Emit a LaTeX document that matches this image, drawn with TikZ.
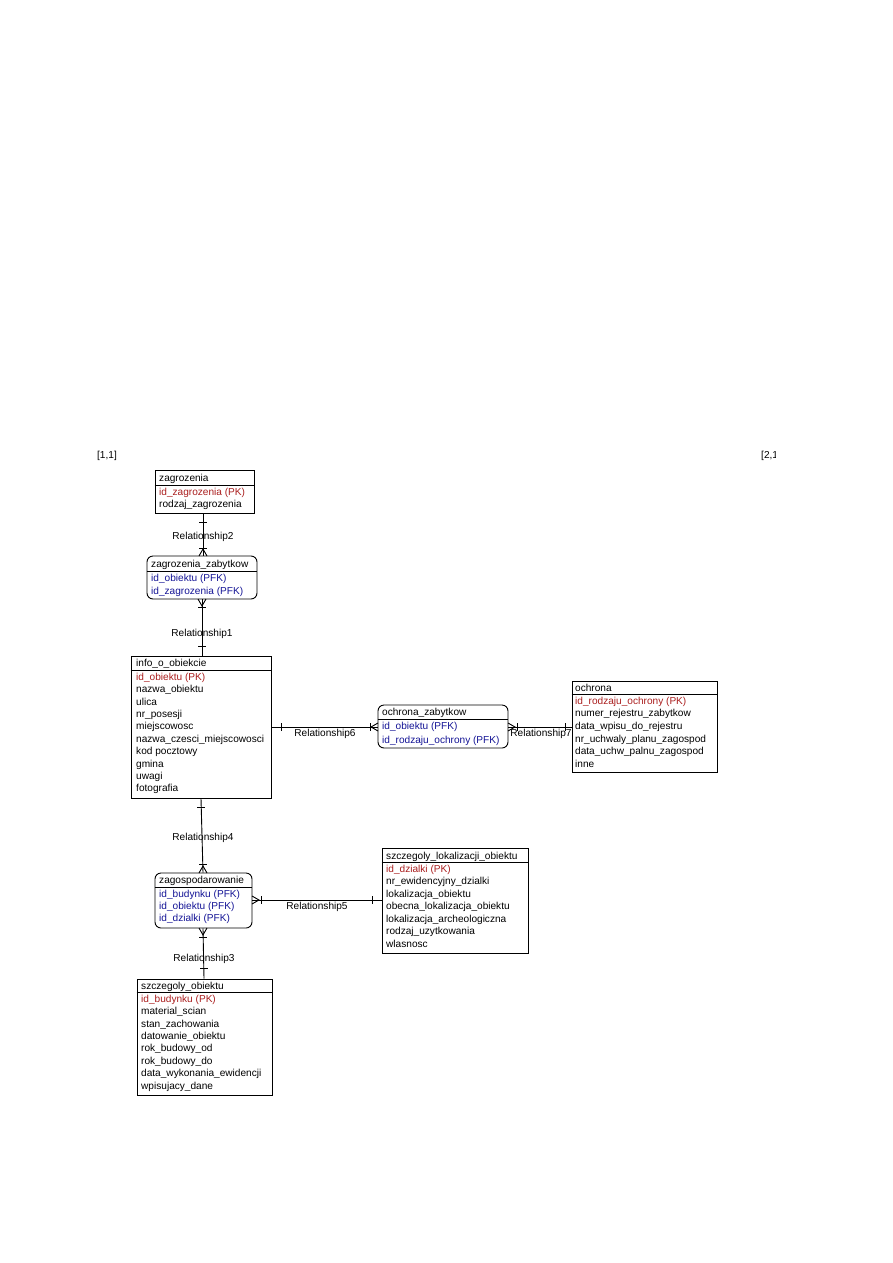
\documentclass[tikz,border=0pt]{standalone}
\usepackage{fontspec}
\setmainfont{Liberation Sans}
\usetikzlibrary{fit}
\definecolor{pkred}{RGB}{170,30,30}
\definecolor{fkblue}{RGB}{20,20,150}
\begin{document}
\begin{tikzpicture}[x=1pt,y=-1pt,
  ebox/.style={draw, line width=0.9pt, inner sep=0pt},
  abox/.style={ebox, rounded corners=6pt},
  txt/.style={anchor=west, inner sep=0pt, yshift=-0.8pt, text height=7pt, text depth=2pt, font=\fontsize{10.1}{12}\selectfont},
  pk/.style={txt, text=pkred},
  fk/.style={txt, text=fkblue},
  rel/.style={line width=0.9pt},
  tickmark/.style={line width=0.9pt},
  rlab/.style={inner sep=0pt, yshift=-0.8pt, font=\fontsize{10.1}{12}\selectfont}
]
\fill[white] (0,0) rectangle (893,1263);
\useasboundingbox (0,0) rectangle (893,1263);

% corner labels
\node[rlab] (c11) at (107,455) {[1,1]};
\begin{scope}
\clip (755,445) rectangle (775,465);
\node[rlab, anchor=west] (c21) at (761,455) {[2,1]};
\end{scope}

% ---------- zagrozenia ----------
\node[ebox, fit={(155,470) (254,513)}] (zag) {};
\draw[rel] (zag.west |- 0,485) -- (zag.east |- 0,485);
\node[txt] (zag-t) at (159,478) {zagrozenia};
\node[pk]  (zag-1) at (159,492) {id\_zagrozenia (PK)};
\node[txt] (zag-2) at (159,504) {rodzaj\_zagrozenia};

% ---------- zagrozenia_zabytkow ----------
\node[abox, fit={(147,556) (257,599)}] (zz) {};
\draw[rel] (zz.west |- 0,571) -- (zz.east |- 0,571);
\node[txt] (zz-t) at (151,564) {zagrozenia\_zabytkow};
\node[fk]  (zz-1) at (151,578) {id\_obiektu (PFK)};
\node[fk]  (zz-2) at (151,591) {id\_zagrozenia (PFK)};

% ---------- info_o_obiekcie ----------
\node[ebox, fit={(131,656) (271,798)}] (info) {};
\draw[rel] (info.west |- 0,670) -- (info.east |- 0,670);
\node[txt] (info-t) at (136,663) {info\_o\_obiekcie};
\node[pk]  (info-1) at (136,677) {id\_obiektu (PK)};
\node[txt] (info-2) at (136,689.4) {nazwa\_obiektu};
\node[txt] (info-3) at (136,701.8) {ulica};
\node[txt] (info-4) at (136,714.2) {nr\_posesji};
\node[txt] (info-5) at (136,726.6) {miejscowosc};
\node[txt] (info-6) at (136,739) {nazwa\_czesci\_miejscowosci};
\node[txt] (info-7) at (136,751.4) {kod pocztowy};
\node[txt] (info-8) at (136,763.8) {gmina};
\node[txt] (info-9) at (136,776.2) {uwagi};
\node[txt] (info-10) at (136,788.6) {fotografia};

% ---------- ochrona_zabytkow ----------
\node[abox, fit={(378,705) (508,748)}] (oz) {};
\draw[rel] (oz.west |- 0,719) -- (oz.east |- 0,719);
\node[txt] (oz-t) at (382,712) {ochrona\_zabytkow};
\node[fk]  (oz-1) at (382,726) {id\_obiektu (PFK)};
\node[fk]  (oz-2) at (382,740) {id\_rodzaju\_ochrony (PFK)};

% ---------- ochrona ----------
\node[ebox, fit={(572,681) (717,772)}] (och) {};
\draw[rel] (och.west |- 0,694) -- (och.east |- 0,694);
\node[txt] (och-t) at (575,688) {ochrona};
\node[pk]  (och-1) at (575,701) {id\_rodzaju\_ochrony (PK)};
\node[txt] (och-2) at (575,713.6) {numer\_rejestru\_zabytkow};
\node[txt] (och-3) at (575,726.2) {data\_wpisu\_do\_rejestru};
\node[txt] (och-4) at (575,738.8) {nr\_uchwaly\_planu\_zagospod};
\node[txt] (och-5) at (575,751.4) {data\_uchw\_palnu\_zagospod};
\node[txt] (och-6) at (575,764) {inne};

% ---------- zagospodarowanie ----------
\node[abox, fit={(155,873) (252,928)}] (zg) {};
\draw[rel] (zg.west |- 0,887) -- (zg.east |- 0,887);
\node[txt] (zg-t) at (159,880) {zagospodarowanie};
\node[fk]  (zg-1) at (159,894) {id\_budynku (PFK)};
\node[fk]  (zg-2) at (159,906) {id\_obiektu (PFK)};
\node[fk]  (zg-3) at (159,918) {id\_dzialki (PFK)};

% ---------- szczegoly_lokalizacji_obiektu ----------
\node[ebox, fit={(382,848) (528,953)}] (sl) {};
\draw[rel] (sl.west |- 0,862) -- (sl.east |- 0,862);
\node[txt] (sl-t) at (386,856) {szczegoly\_lokalizacji\_obiektu};
\node[pk]  (sl-1) at (386,869) {id\_dzialki (PK)};
\node[txt] (sl-2) at (386,881.5) {nr\_ewidencyjny\_dzialki};
\node[txt] (sl-3) at (386,894) {lokalizacja\_obiektu};
\node[txt] (sl-4) at (386,906.5) {obecna\_lokalizacja\_obiektu};
\node[txt] (sl-5) at (386,919) {lokalizacja\_archeologiczna};
\node[txt] (sl-6) at (386,931.5) {rodzaj\_uzytkowania};
\node[txt] (sl-7) at (386,944) {wlasnosc};

% ---------- szczegoly_obiektu ----------
\node[ebox, fit={(137,979) (272,1095)}] (so) {};
\draw[rel] (so.west |- 0,992) -- (so.east |- 0,992);
\node[txt] (so-t) at (141,986) {szczegoly\_obiektu};
\node[pk]  (so-1) at (141,999) {id\_budynku (PK)};
\node[txt] (so-2) at (141,1011.4) {material\_scian};
\node[txt] (so-3) at (141,1023.8) {stan\_zachowania};
\node[txt] (so-4) at (141,1036.2) {datowanie\_obiektu};
\node[txt] (so-5) at (141,1048.6) {rok\_budowy\_od};
\node[txt] (so-6) at (141,1061) {rok\_budowy\_do};
\node[txt] (so-7) at (141,1073.4) {data\_wykonania\_ewidencji};
\node[txt] (so-8) at (141,1085.8) {wpisujacy\_dane};

% ---------- Relationship2: zagrozenia -> zagrozenia_zabytkow ----------
\draw[rel] (zag.south -| 203,0) -- (zz.north -| 203,0);
\draw[tickmark] (199,522) -- (207,522);
\draw[tickmark] (199,548) -- (207,548);
\draw[tickmark] (199,556) -- (203,549) -- (207,556);
\node[rlab] (r2) at (203,536) {Relationship2};

% ---------- Relationship1: info -> zagrozenia_zabytkow ----------
\draw[rel] (zz.south -| 202,0) -- (info.north -| 202,0);
\draw[tickmark] (198,599) -- (202,606) -- (206,599);
\draw[tickmark] (198,607) -- (206,607);
\draw[tickmark] (198,646) -- (206,646);
\node[rlab] (r1) at (202,633) {Relationship1};

% ---------- Relationship4: info -> zagospodarowanie ----------
\draw[rel] (info.south -| 201,0) -- (zg.north -| 203,0);
\draw[tickmark] (197,807) -- (205,807);
\draw[tickmark] (199,864) -- (207,864);
\draw[tickmark] (199,873) -- (203,866) -- (207,873);
\node[rlab] (r4) at (203,837) {Relationship4};

% ---------- Relationship3: szczegoly_obiektu -> zagospodarowanie ----------
\draw[rel] (zg.south -| 203,0) -- (so.north -| 204,0);
\draw[tickmark] (199,928) -- (203,935) -- (207,928);
\draw[tickmark] (199,937) -- (207,937);
\draw[tickmark] (200,968) -- (208,968);
\node[rlab] (r3) at (204,958) {Relationship3};

% ---------- Relationship6: info -> ochrona_zabytkow ----------
\draw[rel] (info.east |- 0,727) -- (oz.west |- 0,727);
\draw[tickmark] (281,723) -- (281,731);
\draw[tickmark] (370,723) -- (370,731);
\draw[tickmark] (378,723) -- (371,727) -- (378,731);
\node[rlab] (r6) at (325,733) {Relationship6};

% ---------- Relationship7: ochrona -> ochrona_zabytkow ----------
\draw[rel] (oz.east |- 0,727) -- (och.west |- 0,727);
\draw[tickmark] (508,723) -- (515,727) -- (508,731);
\draw[tickmark] (517,723) -- (517,731);
\draw[tickmark] (565,723) -- (565,731);
\node[rlab] (r7) at (541,733) {Relationship7};

% ---------- Relationship5: szczegoly_lokalizacji -> zagospodarowanie ----------
\draw[rel] (zg.east |- 0,900) -- (sl.west |- 0,900);
\draw[tickmark] (252,896) -- (259,900) -- (252,904);
\draw[tickmark] (261,896) -- (261,904);
\draw[tickmark] (372,896) -- (372,904);
\node[rlab] (r5) at (317,906) {Relationship5};
\end{tikzpicture}
\end{document}
